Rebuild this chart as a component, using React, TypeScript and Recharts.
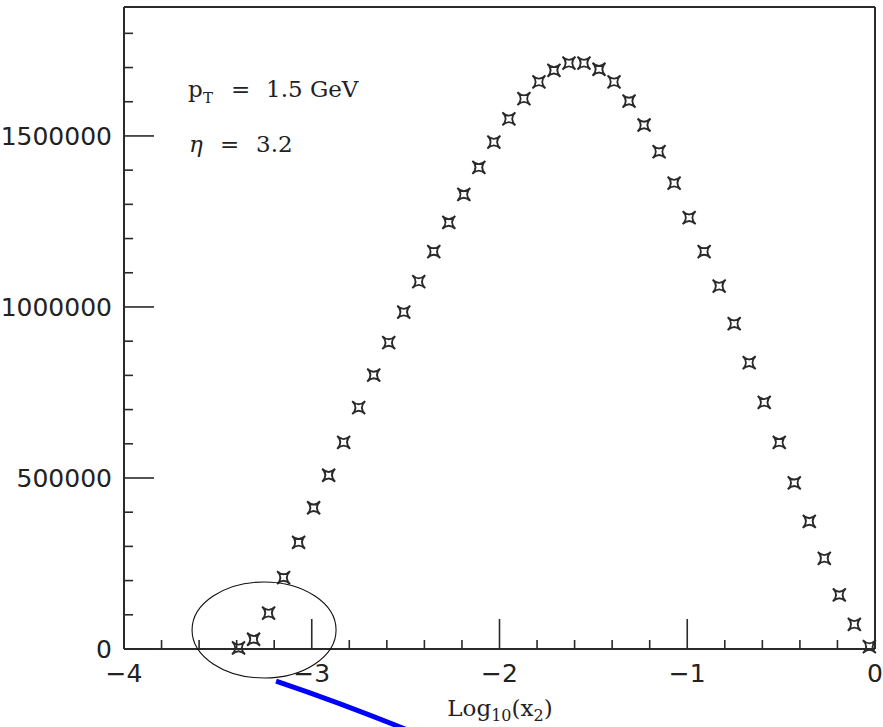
import { ReferenceDot, ReferenceLine, Scatter, ScatterChart, XAxis, YAxis } from "recharts";

// log10(x2) bin centres
const logX2 = [
  -3.39, -3.31, -3.23, -3.15, -3.07, -2.99, -2.91, -2.83, -2.75, -2.67, -2.59,
  -2.51, -2.43, -2.35, -2.27, -2.19, -2.11, -2.03, -1.95, -1.87, -1.79, -1.71,
  -1.63, -1.55, -1.47, -1.39, -1.31, -1.23, -1.15, -1.07, -0.99, -0.91, -0.83,
  -0.75, -0.67, -0.59, -0.51, -0.43, -0.35, -0.27, -0.19, -0.11, -0.03,
];

const counts = [
  3000, 28500, 105000, 209000, 312000, 413000, 508000, 604000, 706000, 801000,
  896000, 985000, 1074000, 1162000, 1247000, 1329000, 1408000, 1482000, 1550000,
  1609000, 1658000, 1692000, 1713000, 1713000, 1695000, 1658000, 1602000,
  1532000, 1454000, 1362000, 1261000, 1162000, 1061000, 951000, 837000, 721000,
  604000, 486000, 373000, 265000, 158000, 72000, 7000,
];

const xTicks = [
  -4, -3.8, -3.6, -3.4, -3.2, -3, -2.8, -2.6, -2.4, -2.2, -2, -1.8, -1.6, -1.4,
  -1.2, -1, -0.8, -0.6, -0.4, -0.2, 0,
];
const yTicks = [
  0, 100000, 200000, 300000, 400000, 500000, 600000, 700000, 800000, 900000,
  1000000, 1100000, 1200000, 1300000, 1400000, 1500000, 1600000, 1700000,
  1800000,
];

const points = logX2.map((x, i) => ({ x, y: counts[i] }));

const INK = "#2a2a2a";
const TICK_FONT = "'DejaVu Sans', sans-serif";
const TEXT_FONT = "'DejaVu Serif', serif";
const MAJOR = 30;
const MINOR = 9;

const isMajorX = (v: number) => Math.abs(v - Math.round(v)) < 1e-6;
const isMajorY = (v: number) => v % 500000 === 0;
const fmtX = (v: number) => (Math.round(v) === 0 ? "0" : "\u2212" + Math.abs(Math.round(v)));

function BottomTick({ x, y, payload }: any) {
  const major = isMajorX(payload.value);
  return (
    <g>
      <line x1={x} x2={x} y1={y} y2={y - (major ? MAJOR : MINOR)} stroke={INK} strokeWidth={1.6} />
      {major && (
        <text x={x} y={y + 33} textAnchor="middle" fontFamily={TICK_FONT} fontSize={25} fill="#222">
          {fmtX(payload.value)}
        </text>
      )}
    </g>
  );
}

function TopTick({ x, y, payload }: any) {
  const major = isMajorX(payload.value);
  return <line x1={x} x2={x} y1={y} y2={y + (major ? MAJOR : MINOR)} stroke={INK} strokeWidth={1.6} />;
}

function LeftTick({ x, y, payload }: any) {
  const major = isMajorY(payload.value);
  return (
    <g>
      <line x1={x} x2={x + (major ? MAJOR : MINOR)} y1={y} y2={y} stroke={INK} strokeWidth={1.6} />
      {major && (
        <text x={x - 12} y={y + 9} textAnchor="end" fontFamily={TICK_FONT} fontSize={25} fill="#222">
          {payload.value}
        </text>
      )}
    </g>
  );
}

function RightTick({ x, y, payload }: any) {
  const major = isMajorY(payload.value);
  return <line x1={x} x2={x - (major ? MAJOR : MINOR)} y1={y} y2={y} stroke={INK} strokeWidth={1.6} />;
}

// four-pointed concave star marker
function StarMarker({ cx, cy }: any) {
  const r = 6.5;
  const d = `M ${cx - r} ${cy - r} Q ${cx} ${cy} ${cx + r} ${cy - r} Q ${cx} ${cy} ${cx + r} ${cy + r} Q ${cx} ${cy} ${cx - r} ${cy + r} Q ${cx} ${cy} ${cx - r} ${cy - r} Z`;
  return <path d={d} fill="none" stroke={INK} strokeWidth={1.8} />;
}

function CircleMark({ cx, cy }: any) {
  return <ellipse cx={cx} cy={cy} rx={72} ry={48} fill="none" stroke="#111" strokeWidth={1.1} />;
}

function BlueStroke({ x1, y1, x2, y2 }: any) {
  const mx = (x1 + x2) / 2 + 1;
  const my = (y1 + y2) / 2 - 2;
  return <path d={`M ${x1} ${y1} Q ${mx} ${my} ${x2} ${y2}`} fill="none" stroke="#0000ff" strokeWidth={5} />;
}

const axisLine = { stroke: INK, strokeWidth: 2 };

export default function App() {
  return (
    <div style={{ position: "absolute", left: 0, top: 0, width: 883, height: 727, background: "#fff" }}>
      <ScatterChart width={883} height={727} margin={{ top: 6, right: 7, bottom: 77, left: 123 }}>
        <XAxis
          xAxisId={0}
          type="number"
          dataKey="x"
          domain={[-4, 0]}
          ticks={xTicks}
          interval={0}
          height={1}
          tickSize={0}
          tickMargin={0}
          tickLine={false}
          axisLine={axisLine}
          tick={<BottomTick />}
        />
        <XAxis
          xAxisId="top"
          orientation="top"
          type="number"
          dataKey="x"
          domain={[-4, 0]}
          ticks={xTicks}
          interval={0}
          height={1}
          tickSize={0}
          tickMargin={0}
          tickLine={false}
          axisLine={axisLine}
          tick={<TopTick />}
        />
        <YAxis
          yAxisId={0}
          type="number"
          dataKey="y"
          domain={[0, 1877000]}
          ticks={yTicks}
          interval={0}
          width={1}
          tickSize={0}
          tickMargin={0}
          tickLine={false}
          axisLine={axisLine}
          tick={<LeftTick />}
        />
        <YAxis
          yAxisId="right"
          orientation="right"
          type="number"
          dataKey="y"
          domain={[0, 1877000]}
          ticks={yTicks}
          interval={0}
          width={1}
          tickSize={0}
          tickMargin={0}
          tickLine={false}
          axisLine={axisLine}
          tick={<RightTick />}
        />
        <Scatter data={points} shape={<StarMarker />} isAnimationActive={false} />
        <ReferenceDot x={-3.254} y={55600} ifOverflow="visible" shape={<CircleMark />} />
        <ReferenceLine
          segment={[
            { x: -3.19, y: -93600 },
            { x: -2.477, y: -239800 },
          ]}
          ifOverflow="visible"
          shape={<BlueStroke />}
        />
      </ScatterChart>
      <svg
        width={883}
        height={727}
        style={{ position: "absolute", left: 0, top: 0, pointerEvents: "none" }}
      >
        <text fontFamily={TEXT_FONT} fontSize={23} fill="#222">
          <tspan x={188} y={97}>p</tspan>
          <tspan x={203} y={103} fontSize={15}>T</tspan>
          <tspan x={231} y={97}>=</tspan>
          <tspan x={266} y={97}>1.5 GeV</tspan>
        </text>
        <text fontFamily={TEXT_FONT} fontSize={23} fill="#222">
          <tspan x={189} y={152} fontStyle="italic">η</tspan>
          <tspan x={220} y={152}>=</tspan>
          <tspan x={256} y={152}>3.2</tspan>
        </text>
        <text x={500} y={716} textAnchor="middle" fontFamily={TEXT_FONT} fontSize={23} fill="#222">
          Log<tspan fontSize={16} dy={5}>10</tspan>
          <tspan dy={-5}>(x</tspan>
          <tspan fontSize={16} dy={5}>2</tspan>
          <tspan dy={-5}>)</tspan>
        </text>
      </svg>
    </div>
  );
}
